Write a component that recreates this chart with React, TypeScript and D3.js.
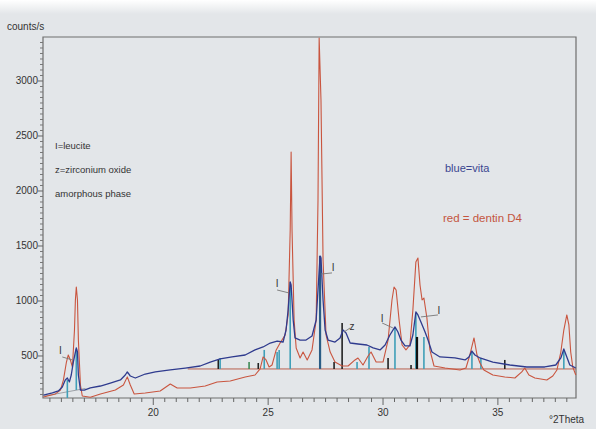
import React from "react";
import * as d3 from "d3";

// values: [°2Theta, counts/s]
const blueVita: [number, number][] = [
  [15.22, 145], [15.61, 164], [15.87, 182], [16.04, 218], [16.17, 282], [16.26, 300],
  [16.35, 264], [16.43, 327], [16.52, 445], [16.61, 536], [16.65, 573], [16.7, 536],
  [16.74, 327], [16.83, 190], [17.0, 190], [17.26, 210], [17.7, 227], [18.13, 254],
  [18.57, 282], [18.78, 327], [18.87, 355], [19.0, 318], [19.22, 300], [19.65, 336],
  [20.09, 355], [20.74, 373], [21.39, 390], [22.04, 409], [22.48, 445], [22.91, 473],
  [23.43, 491], [24.0, 509], [24.43, 555], [24.78, 582], [25.09, 618], [25.39, 636],
  [25.65, 627], [25.78, 736], [25.87, 918], [25.96, 1173], [26.0, 1145], [26.09, 827],
  [26.17, 664], [26.39, 645], [26.65, 645], [26.91, 682], [27.09, 827], [27.17, 1100],
  [27.26, 1409], [27.3, 1390], [27.39, 1009], [27.48, 736], [27.61, 645], [27.91, 627],
  [28.13, 664], [28.26, 736], [28.39, 709], [28.57, 618], [28.91, 609], [29.3, 600],
  [29.57, 573], [29.87, 555], [30.09, 600], [30.3, 691], [30.52, 764], [30.65, 718],
  [30.78, 645], [30.96, 591], [31.17, 591], [31.3, 691], [31.43, 900], [31.52, 873],
  [31.65, 809], [31.83, 718], [31.96, 645], [32.13, 536], [32.48, 491], [33.13, 482],
  [33.57, 464], [33.74, 491], [33.87, 545], [34.0, 509], [34.22, 482], [34.78, 445],
  [35.52, 418], [36.26, 400], [37.04, 400], [37.52, 418], [37.74, 482], [37.87, 564],
  [38.0, 491], [38.13, 418], [38.39, 391],
];

const redDentin: [number, number][] = [
  [15.22, 127], [15.74, 155], [15.96, 190], [16.09, 282], [16.22, 445], [16.3, 509],
  [16.39, 464], [16.48, 400], [16.57, 736], [16.61, 1009], [16.65, 1127], [16.7, 1009],
  [16.74, 645], [16.83, 236], [16.91, 136], [17.26, 125], [17.7, 155], [18.35, 190],
  [18.7, 236], [18.87, 310], [19.0, 236], [19.17, 155], [19.65, 164], [20.3, 182],
  [20.74, 245], [21.04, 209], [21.61, 209], [22.26, 227], [22.78, 264], [23.35, 273],
  [24.0, 309], [24.43, 327], [24.65, 382], [24.78, 491], [24.91, 464], [25.04, 400],
  [25.17, 418], [25.35, 555], [25.52, 618], [25.74, 691], [25.87, 873], [25.96, 1645],
  [26.0, 2355], [26.04, 1645], [26.13, 827], [26.22, 573], [26.39, 482], [26.52, 536],
  [26.7, 464], [26.91, 555], [27.09, 827], [27.17, 1918], [27.22, 3390], [27.3, 2827],
  [27.39, 1373], [27.52, 691], [27.7, 536], [27.91, 445], [28.22, 409], [28.48, 409],
  [28.78, 464], [28.91, 482], [29.13, 418], [29.35, 500], [29.48, 536], [29.7, 445],
  [30.0, 445], [30.22, 645], [30.39, 1009], [30.48, 1127], [30.57, 1100], [30.7, 827],
  [30.83, 600], [31.0, 555], [31.17, 600], [31.3, 918], [31.43, 1355], [31.52, 1390],
  [31.61, 1145], [31.7, 1009], [31.78, 1027], [31.91, 845], [32.04, 555], [32.22, 409],
  [32.7, 391], [33.35, 373], [33.61, 391], [33.78, 509], [33.96, 664], [34.09, 509],
  [34.22, 436], [34.39, 373], [34.78, 327], [35.3, 309], [35.74, 300], [36.04, 355],
  [36.17, 391], [36.35, 327], [36.61, 300], [37.13, 282], [37.39, 318], [37.57, 373],
  [37.74, 536], [37.87, 736], [38.0, 873], [38.09, 782], [38.17, 536], [38.26, 400],
  [38.39, 327],
];

// reference pattern sticks: [°2Theta, top, base, kind]
const sticks: [number, number, number, string][] = [
  [16.26, 282, 118, "t"], [16.65, 564, 191, "t"], [22.83, 464, 382, "k"], [22.91, 482, 382, "t"],
  [24.17, 445, 382, "g"], [24.57, 436, 382, "k"], [24.83, 555, 382, "t"], [25.39, 536, 382, "t"],
  [25.48, 555, 382, "t"], [25.96, 1173, 382, "t"], [27.26, 1409, 382, "b"], [27.87, 445, 382, "k"],
  [28.22, 800, 382, "k"], [28.87, 445, 382, "t"], [29.39, 582, 382, "t"], [30.22, 482, 382, "k"],
  [30.52, 755, 382, "t"], [31.22, 418, 382, "k"], [31.43, 891, 382, "t"], [31.48, 673, 382, "K"],
  [31.78, 673, 382, "t"], [33.87, 536, 382, "t"], [34.26, 482, 382, "t"], [35.3, 464, 382, "k"],
  [37.87, 555, 382, "t"],
];

const baseline: [number, number][] = [[21.5, 382], [38.39, 382]];
const bgLeft: [number, number][] = [[15.25, 135], [17.05, 205]];

// phase labels: text, text centre, leader start, leader end
const marks: [string, [number, number], [number, number], [number, number]][] = [
  ["I", [15.96, 555], [16.04, 491], [16.48, 464]],
  ["I", [25.39, 1164], [25.39, 1100], [25.91, 1073]],
  ["I", [27.83, 1309], [27.3, 1245], [27.78, 1255]],
  ["z", [28.65, 773], [28.3, 718], [28.57, 755]],
  ["I", [29.96, 845], [29.96, 800], [30.43, 755]],
  ["I", [32.43, 918], [31.65, 855], [32.39, 873]],
];

const xTicks = [20, 25, 30, 35];
const yTicks = [500, 1000, 1500, 2000, 2500, 3000];
const legendNotes = ["I=leucite", "z=zirconium oxide", "amorphous phase"];

const stickColor: Record<string, string> = { t: "#3f9fb8", k: "#222", K: "#111", g: "#3d8a55", b: "#2a5d86" };

export default function App() {
  const W = 596, H = 429;
  const m = { l: 43, r: 576, t: 37, b: 398 };
  const x = d3.scaleLinear().domain([15.2, 38.4]).range([m.l, m.r]);
  const y = d3.scaleLinear().domain([118, 3400]).range([m.b, m.t]);
  const line = d3.line<[number, number]>().x(d => x(d[0])).y(d => y(d[1]));

  const minorX = d3.range(15.5, 38.4, 0.5).filter(v => !xTicks.includes(v));
  const minorY = d3.range(150, 3400, 50).filter(v => !yTicks.includes(v));
  const font = "Arial, 'Liberation Sans', sans-serif";

  return (
    <svg width={W} height={H} style={{ position: "absolute", left: 0, top: 0 }} fontFamily={font}>
      <defs>
        <linearGradient id="top" x1="0" y1="0" x2="0" y2="1">
          <stop offset="0" stopColor="#ffffff" />
          <stop offset="1" stopColor="#e3e6e9" />
        </linearGradient>
      </defs>
      <rect width={W} height={H} fill="#e3e6e9" />
      <rect width={W} height={14} fill="url(#top)" />

      {/* frame */}
      <path d={`M${m.l},${m.b}V${m.t}H${m.r}V${m.b}Z`} fill="none" stroke="#6e6e6e" strokeWidth={1.2} />

      {/* x ticks */}
      {minorX.map(v => (
        <line key={"mx" + v} x1={x(v)} x2={x(v)} y1={m.b} y2={m.b + 4} stroke="#666" />
      ))}
      {xTicks.map(v => (
        <g key={"x" + v}>
          <line x1={x(v)} x2={x(v)} y1={m.b} y2={m.b + 7} stroke="#666" />
          <text x={x(v)} y={416} fontSize={10} textAnchor="middle" fill="#333">{v}</text>
        </g>
      ))}

      {/* y ticks */}
      {minorY.map(v => (
        <line key={"my" + v} x1={m.l - 3} x2={m.l} y1={y(v)} y2={y(v)} stroke="#777" />
      ))}
      {yTicks.map(v => (
        <g key={"y" + v}>
          <line x1={m.l - 5} x2={m.l} y1={y(v)} y2={y(v)} stroke="#666" />
          <text x={m.l - 5} y={y(v) + 3.5} fontSize={10} textAnchor="end" fill="#333">{v}</text>
        </g>
      ))}

      <text x={7} y={30} fontSize={10} fill="#333">counts/s</text>
      <text x={549} y={423} fontSize={10} fill="#333">°2Theta</text>

      {/* baseline and background */}
      <path d={line(baseline) || ""} stroke="#b8604e" strokeWidth={1} fill="none" />
      <path d={line(bgLeft) || ""} stroke="#8a8f96" strokeWidth={0.8} fill="none" />

      {/* reference sticks */}
      {sticks.map(([t, top, base, k], i) => (
        <line key={"s" + i} x1={x(t)} x2={x(t)} y1={y(base)} y2={y(top)}
          stroke={stickColor[k]} strokeWidth={k === "K" || k === "b" ? 2.2 : 1.6} />
      ))}

      {/* patterns */}
      <path d={line(redDentin) || ""} fill="none" stroke="#c9553f" strokeWidth={1.1} strokeLinejoin="round" />
      <path d={line(blueVita) || ""} fill="none" stroke="#2f3b8e" strokeWidth={1.3} strokeLinejoin="round" />

      {/* phase marks */}
      {marks.map(([s, at, p0, p1], i) => (
        <g key={"m" + i}>
          <line x1={x(p0[0])} y1={y(p0[1])} x2={x(p1[0])} y2={y(p1[1])} stroke="#777" strokeWidth={0.9} />
          <text x={x(at[0])} y={y(at[1]) + 4} fontSize={10} textAnchor="middle" fill="#333">{s}</text>
        </g>
      ))}

      {/* notes */}
      {legendNotes.map((s, i) => (
        <text key={s} x={55} y={149 + i * 24} fontSize={9.5} fill="#333">{s}</text>
      ))}
      <text x={445} y={172} fontSize={11} fill="#3b4691">blue=vita</text>
      <text x={443} y={222} fontSize={11.5} fill="#c4553f">red = dentin D4</text>
    </svg>
  );
}
